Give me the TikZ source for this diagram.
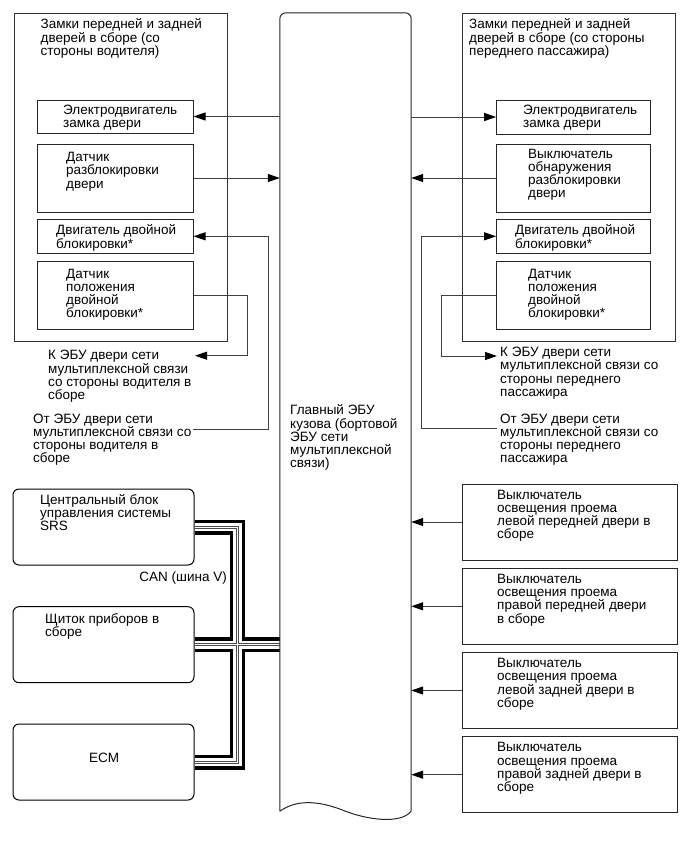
\documentclass[tikz,border=0pt]{standalone}
\usepackage{fontspec}
\setmainfont{Liberation Sans}
\usetikzlibrary{arrows.meta,backgrounds}

\newcommand{\lblfont}{\fontsize{13.5pt}{13.2pt}\selectfont}
\newcommand{\ttlfont}{\fontsize{13.5pt}{11.5pt}\selectfont}
\newcommand{\fl}{\rule{0pt}{11pt}}

\tikzset{
  grp/.style={draw=black!80, line width=1pt, inner sep=0pt},
  unit/.style={draw=black!85, line width=1pt, inner sep=0pt, minimum width=156pt},
  ecu/.style={draw=black, line width=1pt, rounded corners=6pt, inner sep=0pt, minimum width=181pt, minimum height=76pt},
  txt/.style={anchor=north west, inner sep=0pt, align=left, font=\lblfont},
  ttl/.style={txt, font=\ttlfont},
  wire/.style={draw=black!75, line width=1pt, -{Triangle[length=12pt,width=8pt,color=black]}},
}

\begin{document}
\begin{tikzpicture}[x=1pt, y=-1pt]
  \useasboundingbox (0,0) rectangle (689,854);
  % main body ECU (bus strip)
  \node[minimum width=131pt, minimum height=798pt, inner sep=0pt] (bus) at (345.5,412) {};
  \draw[black!85, line width=1pt, rounded corners=6pt] (bus.south west) -- (bus.north west) -- (bus.north east) -- (bus.south east);
  \draw[black!85, line width=1pt] (bus.south east) .. controls (400,825) and (365,819) .. (345,811) .. controls (325,803) and (300,797) .. (bus.south west);
  \node[txt] (bustxt) at (290,403.7) {\fl Главный ЭБУ\\кузова (бортовой\\ЭБУ сети\\мультиплексной\\связи)};

  % driver side door locks
  \node[grp, minimum width=213pt, minimum height=328.7pt] (lgrp) at (120.5,177.35) {};
  \node[ttl] (lttl) at (40.5,17) {\fl Замки передней и задней\\дверей в сборе (со\\стороны водителя)};
  \node[unit, minimum height=33pt] (lm1) at (115,116.5) {};
  \node[unit, minimum height=68pt] (lm2) at (115,178) {};
  \node[unit, minimum height=34pt] (lm3) at (115,236.3) {};
  \node[unit, minimum height=68.3pt] (lm4) at (115,295.2) {};
  \node[txt] (lm1t) at (63,103.5) {\fl Электродвигатель\\замка двери};
  \node[txt] (lm2t) at (66,150.4) {\fl Датчик\\разблокировки\\двери};
  \node[txt] (lm3t) at (56,223.7) {\fl Двигатель двойной\\блокировки*};
  \node[txt] (lm4t) at (66,267) {\fl Датчик\\положения\\двойной\\блокировки*};
  \node[txt] (lto) at (48,348.7) {\fl К ЭБУ двери сети\\мультиплексной связи\\со стороны водителя в\\сборе};
  \node[txt] (lfrom) at (33,412) {\fl От ЭБУ двери сети\\мультиплексной связи со\\стороны водителя в\\сборе};

  % passenger side door locks
  \node[grp, minimum width=212.7pt, minimum height=328.7pt] (rgrp) at (568.65,177.35) {};
  \node[ttl] (rttl) at (469,17) {\fl Замки передней и задней\\дверей в сборе (со стороны\\переднего пассажира)};
  \node[unit, minimum width=154pt, minimum height=34pt] (rm1) at (573.7,117) {};
  \node[unit, minimum width=154pt, minimum height=68pt] (rm2) at (573.7,178) {};
  \node[unit, minimum width=154pt, minimum height=34pt] (rm3) at (573.7,236.3) {};
  \node[unit, minimum width=154pt, minimum height=68.3pt] (rm4) at (573.7,295.2) {};
  \node[txt] (rm1t) at (523,103.5) {\fl Электродвигатель\\замка двери};
  \node[txt] (rm2t) at (528,147) {\fl Выключатель\\обнаружения\\разблокировки\\двери};
  \node[txt] (rm3t) at (515,223.7) {\fl Двигатель двойной\\блокировки*};
  \node[txt] (rm4t) at (528,267) {\fl Датчик\\положения\\двойной\\блокировки*};
  \node[txt] (rto) at (500,345.4) {\fl К ЭБУ двери сети\\мультиплексной связи со\\стороны переднего\\пассажира};
  \node[txt] (rfrom) at (500,412) {\fl От ЭБУ двери сети\\мультиплексной связи со\\стороны переднего\\пассажира};

  % lock signals
  \draw[wire] (bus.west |- lm1.east) -- (lm1.east);
  \draw[wire] (lm2.east) -- (bus.west |- lm2.east);
  \draw[wire] (bus.east |- rm1.west) -- (rm1.west);
  \draw[wire] (rm2.west) -- (bus.east |- rm2.west);
  \coordinate (lkbend) at (247,355.7);
  \coordinate (lkto) at (195,355.7);
  \draw[wire] (lm4.east) -| (lkbend) -- (lkto);
  \coordinate (lotail) at (193,429.3);
  \coordinate (lobend) at (268,429.3);
  \draw[wire] (lotail) -- (lobend) |- (lm3.east);
  \coordinate (rkbend) at (441.7,356);
  \coordinate (rkto) at (497,356);
  \draw[wire] (rm4.west) -| (rkbend) -- (rkto);
  \coordinate (rotail) at (497,428.3);
  \coordinate (robend) at (421.7,428.3);
  \draw[wire] (rotail) -- (robend) |- (rm3.west);

  % CAN (V bus) ECUs
  \node[ecu] (srs) at (103.5,527) {};
  \node[txt] (srst) at (40,493) {\fl Центральный блок\\управления системы\\SRS};
  \node[ecu] (dash) at (103.5,644.7) {};
  \node[txt] (dasht) at (45,612) {\fl Щиток приборов в\\сборе};
  \node[ecu] (ecm) at (103.5,762) {};
  \node[font=\lblfont, inner sep=0pt] (ecmt) at (104,758) {ECM};
  \node[font=\lblfont, anchor=base east, inner sep=0pt] (canlbl) at (227,581.4) {CAN (шина V)};
  \coordinate (trunk) at (237.5,644.7);
  \begin{scope}[on background layer]
    \foreach \w/\col in {15/black, 8.4/white, 3/black!70, 1/white} {
      \draw[line width=\w, \col] (srs.east) -| (trunk) |- (ecm.east);
      \draw[line width=\w, \col] (dash.east) -- (bus.west |- dash.east);
    }
  \end{scope}

  % courtesy light switches
  \foreach \n/\cy/\txt in {1/522/{Выключатель\\освещения проема\\левой передней двери в\\сборе},
      2/606.3/{Выключатель\\освещения проема\\правой передней двери\\в сборе},
      3/690.5/{Выключатель\\освещения проема\\левой задней двери в\\сборе},
      4/774.7/{Выключатель\\освещения проема\\правой задней двери в\\сборе}} {
    \node[unit, minimum width=214.7pt, minimum height=76pt] (sw\n) at (569.7,\cy) {};
    \node[txt] (swt\n) at (497,\cy-34) {\fl \txt};
    \draw[wire] (sw\n.west) -- (bus.east |- sw\n.west);
  }
\end{tikzpicture}
\end{document}
